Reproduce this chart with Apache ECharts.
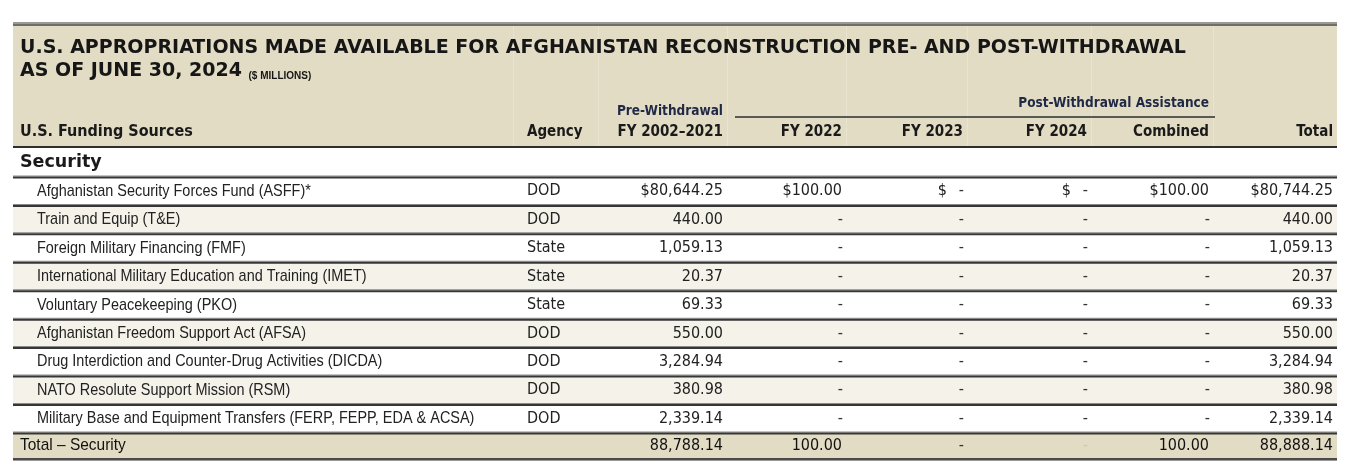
<!DOCTYPE html>
<html><head><meta charset="utf-8">
<script src="https://cdn.jsdelivr.net/npm/echarts@6/dist/echarts.min.js"></script>
<style>html,body{margin:0;padding:0;background:#fff}#c{width:1356px;height:476px}</style>
</head><body><div id="c"></div>
<script>
// ---------------- DATA ----------------
const titleLine1 = 'U.S. APPROPRIATIONS MADE AVAILABLE FOR AFGHANISTAN RECONSTRUCTION PRE- AND POST-WITHDRAWAL';
const titleLine2 = 'AS OF JUNE 30, 2024';
const titleUnit = '($ MILLIONS)';
const columnHeaders = ['U.S. Funding Sources', 'Agency', 'FY 2002–2021', 'FY 2022', 'FY 2023', 'FY 2024', 'Combined', 'Total'];
const preGroupHeader = 'Pre-Withdrawal';
const postGroupHeader = 'Post-Withdrawal Assistance';
const sectionName = 'Security';
const fundingSources = [
  'Afghanistan Security Forces Fund (ASFF)*',
  'Train and Equip (T&E)',
  'Foreign Military Financing (FMF)',
  'International Military Education and Training (IMET)',
  'Voluntary Peacekeeping (PKO)',
  'Afghanistan Freedom Support Act (AFSA)',
  'Drug Interdiction and Counter-Drug Activities (DICDA)',
  'NATO Resolute Support Mission (RSM)',
  'Military Base and Equipment Transfers (FERP, FEPP, EDA & ACSA)'
];
const agencies = ['DOD', 'DOD', 'State', 'State', 'State', 'DOD', 'DOD', 'DOD', 'DOD'];
const preWithdrawal = [80644.25, 440.00, 1059.13, 20.37, 69.33, 550.00, 3284.94, 380.98, 2339.14];
const fy2022 = [100.00, null, null, null, null, null, null, null, null];
const fy2023 = [null, null, null, null, null, null, null, null, null];
const fy2024 = [null, null, null, null, null, null, null, null, null];
const combined = [100.00, null, null, null, null, null, null, null, null];
const totals = [80744.25, 440.00, 1059.13, 20.37, 69.33, 550.00, 3284.94, 380.98, 2339.14];
const totalLabel = 'Total – Security';
const totalRowValues = [88788.14, 100.00, null, null, 100.00, 88888.14];

// ---------------- LAYOUT ----------------
const TL = 13, TR = 1337;
const colEdges = [0, 500, 585, 714, 833, 954, 1078, 1200, 1324];
const rowSpans = [1, 1, 1, 1, 1, 1, 1, 1, 1, 1, 0.9];
const GRID_TOP = 148, GRID_BOTTOM = 458;
const SANS = '"Liberation Sans", Arial, sans-serif';
const COND = '"DejaVu Sans Condensed", "DejaVu Sans", sans-serif';
const BEIGE = '#e3dcc4', ALT = '#f5f2ea', NAVY = '#1f2844', INK = '#222';
const NARROW_SCALE = 0.85;

const rowStart = [];
{ let acc = 0; rowSpans.forEach(s => { rowStart.push(acc); acc += s; }); }
const yMax = rowSpans.reduce((a, b) => a + b, 0);

function fmt(v) {
  return v.toLocaleString('en-US', { minimumFractionDigits: 2, maximumFractionDigits: 2 });
}

const rows = [];
rows.push({ kind: 'section' });
fundingSources.forEach((n, i) => rows.push({ kind: 'data', i }));
rows.push({ kind: 'total' });

function hline(x0, x1, y, h, color) {
  return { type: 'rect', z2: 20, shape: { x: x0, y: y, width: x1 - x0, height: h }, style: { fill: color }, silent: true };
}
function txt(text, x, y, align, font, color, weight) {
  return { type: 'text', z2: 10, style: { text, x, y, align, verticalAlign: 'middle', fontFamily: font.family, fontSize: font.size, fontWeight: weight || 'normal', fill: color || INK } };
}
function narrowTxt(text, x, y, color, scale) {
  return { type: 'text', z2: 10, x: x, y: y, scaleX: scale || NARROW_SCALE, style: { text, x: 0, y: 0, align: 'left', verticalAlign: 'middle', fontFamily: SANS, fontSize: 17, fill: color || INK } };
}

const FV = { family: COND, size: 16 };

function renderItem(params, api) {
  const r = rows[params.dataIndex];
  const idx = params.dataIndex;
  const ys = rowStart[idx], ye = ys + rowSpans[idx];
  const pTop = api.coord([colEdges[0], ys]);
  const pBot = api.coord([colEdges[colEdges.length - 1], ye]);
  const x0 = pTop[0], x1 = pBot[0], y0 = pTop[1], y1 = pBot[1];
  const ym = (y0 + y1) / 2 + 0.5;
  const edgeX = c => api.coord([colEdges[c], ys])[0];
  const ch = [];
  let fill = '#fff';
  if (r.kind === 'data' && r.i % 2 === 1) fill = ALT;
  if (r.kind === 'total') fill = BEIGE;
  ch.push({ type: 'rect', z2: 0, shape: { x: x0, y: y0, width: x1 - x0, height: y1 - y0 }, style: { fill } });

  if (r.kind === 'section') {
    ch.push(hline(x0, x1, y0 - 2, 2, '#2e2e2e'));
    ch.push(txt(sectionName, x0 + 7, ym, 'left', { family: '"DejaVu Sans", sans-serif', size: 17.5 }, '#1a1a1a', 'bold'));
  } else if (r.kind === 'data') {
    const i = r.i;
    const dollar = i === 0;
    ch.push(narrowTxt(fundingSources[i], x0 + 24, ym, INK));
    ch.push(txt(agencies[i], edgeX(1) + 14, ym, 'left', FV, INK));
    const vals = [preWithdrawal[i], fy2022[i], fy2023[i], fy2024[i], combined[i], totals[i]];
    vals.forEach((v, k) => {
      const ex = edgeX(k + 3);
      if (v == null) {
        ch.push(txt('-', ex - 3, ym, 'right', FV, '#333'));
        if (dollar) ch.push(txt('$', ex - 20, ym, 'right', FV, INK));
      } else {
        ch.push(txt((dollar ? '$' : '') + fmt(v), ex - 4, ym, 'right', FV, INK));
      }
    });
  } else {
    ch.push(narrowTxt(totalLabel, x0 + 7, ym, '#111', 0.91));
    totalRowValues.forEach((v, k) => {
      const ex = edgeX(k + 3);
      if (v == null) ch.push(txt('-', ex - 3, ym, 'right', FV, k === 3 ? '#d2c9ad' : '#333'));
      else ch.push(txt(fmt(v), ex - 4, ym, 'right', FV, '#111'));
    });
  }
  if (r.kind === 'total') {
    ch.push(hline(x0, x1, y1, 2, '#4a4a4a'));
    ch.push(hline(x0, x1, y1 + 2, 1, '#9a9a9a'));
  } else {
    ch.push(hline(x0, x1, y1 - 1, 1, '#8a8a8a'));
    ch.push(hline(x0, x1, y1, 2, '#363636'));
  }
  return { type: 'group', children: ch };
}

// ---------------- HEADER GRAPHICS ----------------
const graphics = [];
graphics.push({ type: 'rect', shape: { x: TL, y: 22, width: TR - TL, height: 2 }, style: { fill: '#9a9a92' } });
graphics.push({ type: 'rect', shape: { x: TL, y: 24, width: TR - TL, height: 2 }, style: { fill: '#6f6f68' } });
graphics.push({ type: 'rect', shape: { x: TL, y: 26, width: TR - TL, height: 120 }, style: { fill: BEIGE } });
colEdges.slice(1, -1).forEach(e => {
  graphics.push({ type: 'rect', shape: { x: TL + e, y: 26, width: 1, height: 120 }, style: { fill: '#e9e3cf' } });
});
const HF = { fontFamily: COND, fontSize: 15, fontWeight: 'bold', fill: '#1a1a1a' };
function htext(text, x, y, align, extra) {
  return { type: 'text', style: Object.assign({ text, x, y, align, verticalAlign: 'middle' }, HF, extra || {}) };
}
graphics.push(htext(columnHeaders[0], TL + 7, 132, 'left', { fontSize: 16 }));
graphics.push(htext(columnHeaders[1], TL + colEdges[1] + 14, 132, 'left'));
for (let c = 2; c < columnHeaders.length; c++) {
  graphics.push(htext(columnHeaders[c], TL + colEdges[c + 1] - 4, 132, 'right'));
}
graphics.push(htext(preGroupHeader, TL + colEdges[3] - 4, 111, 'right', { fontSize: 13.5, fill: NAVY }));
graphics.push(htext(postGroupHeader, TL + colEdges[7] - 4, 103, 'right', { fontSize: 13.5, fill: NAVY }));
graphics.push({ type: 'rect', shape: { x: TL + colEdges[3] + 8, y: 116, width: colEdges[7] - colEdges[3] - 6, height: 2 }, style: { fill: '#5a5a55' } });

const chart = echarts.init(document.getElementById('c'), null, { renderer: 'canvas' });
chart.setOption({
  animation: false,
  backgroundColor: '#fff',
  title: {
    left: TL + 7, top: 37, padding: 0,
    text: titleLine1 + '\n' + titleLine2 + ' {u|' + titleUnit + '}',
    textStyle: {
      fontFamily: '"DejaVu Sans", sans-serif', fontSize: 19, fontWeight: 'bold', color: '#161616', lineHeight: 23,
      rich: { u: { fontFamily: SANS, fontSize: 10, fontWeight: 'bold', color: '#161616', lineHeight: 23, verticalAlign: 'bottom', padding: [0, 0, 2, 0] } }
    }
  },
  graphic: graphics,
  grid: { left: TL, right: 1356 - TR, top: GRID_TOP, bottom: 476 - GRID_BOTTOM },
  xAxis: { type: 'value', min: 0, max: colEdges[colEdges.length - 1], show: false },
  yAxis: { type: 'value', min: 0, max: yMax, inverse: true, show: false },
  series: [{
    type: 'custom',
    coordinateSystem: 'cartesian2d',
    clip: false,
    renderItem,
    data: rows.map((r, k) => [0, k])
  }]
});
</script></body></html>
